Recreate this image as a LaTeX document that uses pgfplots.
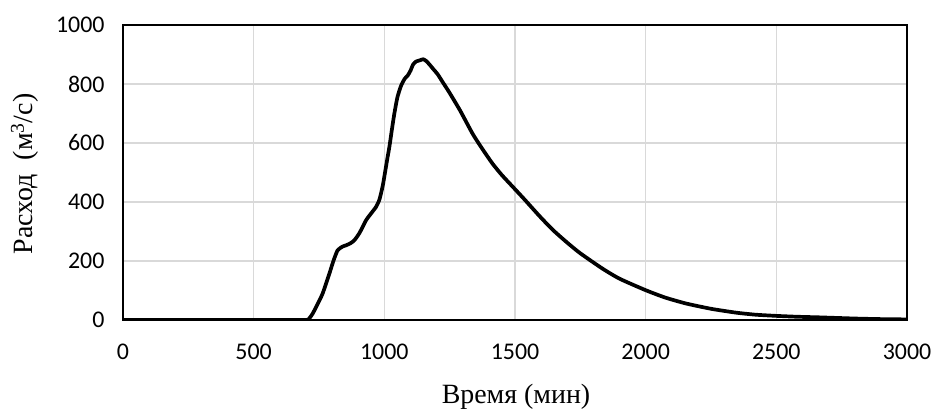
\documentclass[border=0pt]{standalone}
\usepackage{pgfplots}
\pgfplotsset{compat=1.18}
\usepackage{fontspec}
\setmainfont{Liberation Serif}
\newfontfamily\calib{Carlito}
\definecolor{gridgray}{HTML}{D9D9D9}
\begin{document}
\begin{tikzpicture}
\useasboundingbox (0bp,0bp) rectangle (936bp,410bp);
\begin{axis}[
  at={(123bp,90bp)}, anchor=south west,
  scale only axis, width=784bp, height=295bp,
  xmin=0, xmax=3000, ymin=0, ymax=1000,
  xtick={0,500,...,3000}, ytick={0,200,...,1000},
  major tick length=0pt,
  grid=major,
  major grid style={gridgray, line width=1.3bp},
  axis line style={black, line width=2.6bp},
  ticklabel style={font=\calib\fontsize{24}{24}\selectfont, text=black},
  /pgf/number format/assume math mode=true,
  /pgf/number format/set thousands separator={},
  xticklabel style={yshift=-20bp},
  yticklabel style={xshift=-15bp},
]
\addplot[black, line width=3.7bp, line join=round, smooth, tension=0.35] coordinates {
(0,0) (500,0) (690,0) (710,3) (726,22) (745,55) (764,90) (790,158) (805,200) (821,236)
(840,249) (853,253) (870,260) (885,270) (905,295) (930,338) (950,362) (968,383) (980,405)
(987,428) (995,460) (1006,518) (1012,550) (1019,585) (1028,640) (1038,698) (1050,755)
(1064,794) (1078,818) (1089,828) (1100,845) (1110,866) (1121,876) (1135,880) (1149,884)
(1160,878) (1172,867) (1185,853) (1204,833) (1225,804) (1249,771) (1290,710) (1338,631)
(1375,580) (1414,530) (1450,491) (1491,452) (1535,410) (1593,353) (1644,306) (1700,262)
(1750,226) (1835,174) (1900,140) (2000,101) (2075,76) (2154,56) (2250,38) (2345,25)
(2420,18) (2499,14) (2580,11) (2664,9) (2800,5) (2900,3) (3000,2)
};
\end{axis}
\node[anchor=base, font=\fontsize{28}{28}\selectfont] at (516bp,7bp) {Время (мин)};
\node[rotate=90, font=\fontsize{28}{28}\selectfont] at (25bp,236bp) {Расход\ \ (м\textsuperscript{3}/с)};
\end{tikzpicture}
\end{document}
